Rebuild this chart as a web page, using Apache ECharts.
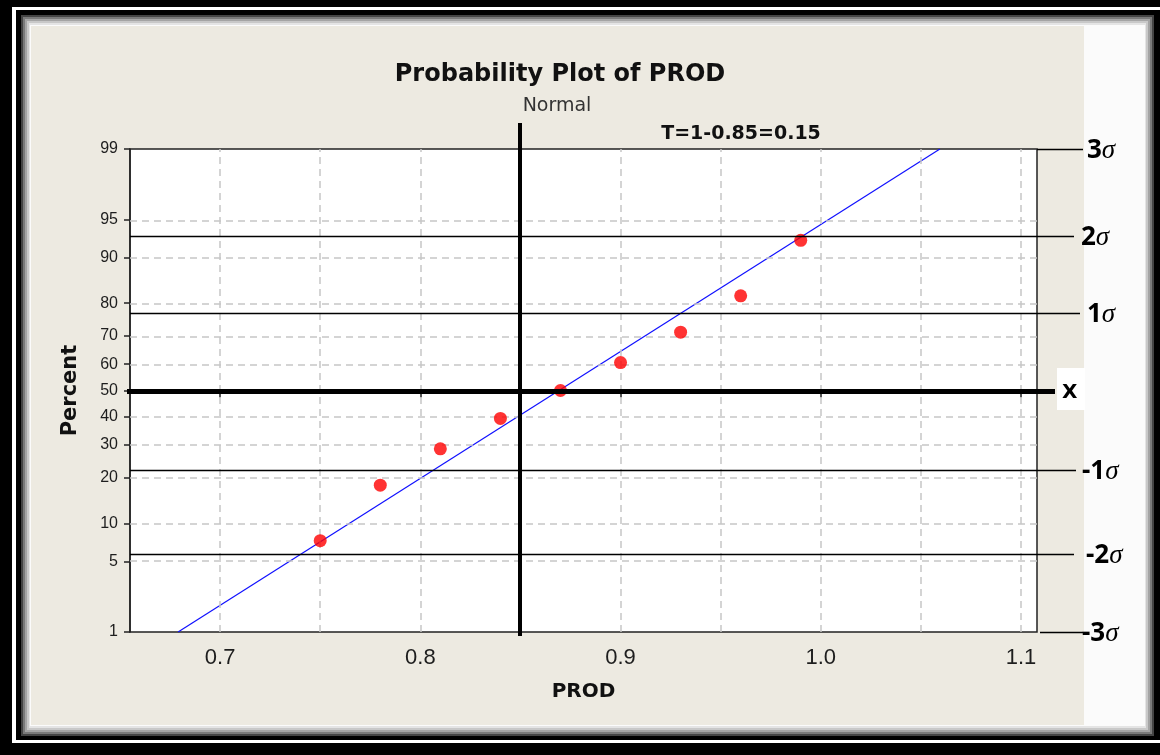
<!DOCTYPE html>
<html>
<head>
<meta charset="utf-8">
<script src="https://cdn.jsdelivr.net/npm/echarts@6/dist/echarts.min.js"></script>
<style>
  html, body { margin: 0; padding: 0; background: #000; }
  #chart { width: 1160px; height: 755px; }
</style>
</head>
<body>
<div id="chart"></div>
<script>
// Observed PROD values and their median-rank plotting positions (percent)
const prodValues    = [0.75, 0.78, 0.81, 0.84, 0.87, 0.90, 0.93, 0.96, 0.99];
const percentValues = [7.4, 18.1, 28.7, 39.4, 50, 60.6, 71.3, 81.9, 92.6];

// Fitted normal line endpoints
const fitProd    = [0.679, 1.0595];
const fitPercent = [1, 99];

// Axis ticks and grid lines
const percentTicks = [1, 5, 10, 20, 30, 40, 50, 60, 70, 80, 90, 95, 99];
const percentGrid  = [5, 10, 20, 30, 40, 60, 70, 80, 90, 95];
const prodTicks    = [0.7, 0.8, 0.9, 1.0, 1.1];
const prodGrid     = [0.7, 0.75, 0.8, 0.85, 0.9, 0.95, 1.0, 1.05, 1.1];

// Target marker and sigma reference levels
const targetProd    = 0.85;
const targetText    = 'T=1-0.85=0.15';
const sigmaNames    = ['3', '2', '1', 'X', '-1', '-2', '-3'];
const sigmaPercent  = [99, 93.2, 77.3, 50, 22.1, 5.8, 1];

// Inverse standard normal CDF (probability scale for the y axis)
function probit(p) {
  const a = [-3.969683028665376e+01, 2.209460984245205e+02, -2.759285104469687e+02, 1.383577518672690e+02, -3.066479806614716e+01, 2.506628277459239e+00];
  const b = [-5.447609879822406e+01, 1.615858368580409e+02, -1.556989798598866e+02, 6.680131188771972e+01, -1.328068155288572e+01];
  const c = [-7.784894002430293e-03, -3.223964580411365e-01, -2.400758277161838e+00, -2.549732539343734e+00, 4.374664141464968e+00, 2.938163982698783e+00];
  const d = [7.784695709041462e-03, 3.224671290700398e-01, 2.445134137142996e+00, 3.754408661907416e+00];
  const pl = 0.02425;
  if (p < pl) {
    const q = Math.sqrt(-2 * Math.log(p));
    return (((((c[0]*q+c[1])*q+c[2])*q+c[3])*q+c[4])*q+c[5]) / ((((d[0]*q+d[1])*q+d[2])*q+d[3])*q+1);
  }
  if (p > 1 - pl) {
    const q = Math.sqrt(-2 * Math.log(1 - p));
    return -(((((c[0]*q+c[1])*q+c[2])*q+c[3])*q+c[4])*q+c[5]) / ((((d[0]*q+d[1])*q+d[2])*q+d[3])*q+1);
  }
  const q = p - 0.5, r = q * q;
  return (((((a[0]*r+a[1])*r+a[2])*r+a[3])*r+a[4])*r+a[5])*q / (((((b[0]*r+b[1])*r+b[2])*r+b[3])*r+b[4])*r+1);
}
const z = pct => probit(pct / 100);

const yTickZ = percentTicks.map(z);
const LABEL = '#1e1e1e';
const BOLD = '"DejaVu Sans", sans-serif';
const TICKFONT = '"Liberation Sans", Arial, sans-serif';

const chart = echarts.init(document.getElementById('chart'), null, { renderer: 'canvas' });

const option = {
  animation: false,
  backgroundColor: '#000',
  title: [
    { text: 'Probability Plot of PROD', left: 555, top: 58, textAlign: 'center',
      textStyle: { fontFamily: BOLD, fontWeight: 'bold', fontSize: 24, color: '#111' } },
    { text: 'Normal', left: 552, top: 92, textAlign: 'center',
      textStyle: { fontFamily: BOLD, fontWeight: 'normal', fontSize: 19, color: '#333' } },
    { text: targetText, left: 736, top: 120, textAlign: 'center',
      textStyle: { fontFamily: BOLD, fontWeight: 'bold', fontSize: 19, color: '#111' } }
  ],
  grid: {
    left: 130, top: 149, width: 907, height: 483,
    show: true, backgroundColor: '#fff', borderColor: '#222', borderWidth: 1.5
  },
  xAxis: {
    type: 'value', min: 0.655, max: 1.108,
    name: 'PROD', nameLocation: 'middle', nameGap: 50,
    nameTextStyle: { fontFamily: BOLD, fontWeight: 'bold', fontSize: 20, color: '#111' },
    axisLine: { show: true, lineStyle: { color: '#222', width: 1.5 } },
    axisTick: { show: true, length: 7, customValues: prodTicks, lineStyle: { color: '#222', width: 1.5 } },
    axisLabel: { customValues: prodTicks, margin: 15, fontFamily: TICKFONT, fontSize: 22, color: LABEL,
      formatter: v => v.toFixed(1) },
    splitLine: { show: false }
  },
  yAxis: {
    type: 'value', min: z(1), max: z(99),
    name: 'Percent', nameLocation: 'middle', nameGap: 49, nameRotate: 90,
    nameTextStyle: { fontFamily: BOLD, fontWeight: 'bold', fontSize: 21, color: '#111' },
    axisLine: { show: true, lineStyle: { color: '#222', width: 1.5 } },
    axisTick: { show: true, length: 6, customValues: yTickZ, lineStyle: { color: '#222', width: 1.5 } },
    axisLabel: { customValues: yTickZ, margin: 12, fontFamily: TICKFONT, fontSize: 16, color: LABEL,
      formatter: v => {
        const i = yTickZ.findIndex(t => Math.abs(t - v) < 1e-9);
        return i >= 0 ? String(percentTicks[i]) : '';
      } },
    splitLine: { show: false }
  },
  series: [
    {
      // dashed reference grid
      type: 'line', data: [], silent: true, z: 1,
      markLine: {
        silent: true, symbol: ['none', 'none'], label: { show: false },
        lineStyle: { type: [7, 5], color: '#c6c6c6', width: 1.5 },
        data: prodGrid.map(v => ({ xAxis: v })).concat(percentGrid.map(p => ({ yAxis: z(p) })))
      }
    },
    {
      name: 'Fit', type: 'line', z: 3, showSymbol: false, symbol: 'none',
      lineStyle: { color: '#1010ff', width: 1.2 },
      data: fitProd.map((x, i) => [x, z(fitPercent[i])])
    },
    {
      name: 'PROD', type: 'scatter', z: 5, symbolSize: 13,
      itemStyle: { color: '#ff0000' },
      data: prodValues.map((x, i) => [x, z(percentValues[i])])
    }
  ]
};
chart.setOption(option);

// Frame, annotation lines and sigma labels placed through the axis scales
const yPix = pct => chart.convertToPixel({ yAxisIndex: 0 }, z(pct));
const xPix = v => chart.convertToPixel({ xAxisIndex: 0 }, v);

const frame = [
  { type: 'rect', shape: { x: 12, y: 7, width: 1148, height: 736 }, style: { fill: '#fff' } },
  { type: 'rect', shape: { x: 16, y: 10, width: 1144, height: 730 }, style: { fill: '#000' } },
  { type: 'rect', shape: { x: 21, y: 15, width: 1133, height: 721 }, style: { fill: '#444' } },
  { type: 'rect', shape: { x: 23, y: 17, width: 1129, height: 717 }, style: { fill: '#7a7a7a' } },
  { type: 'rect', shape: { x: 25, y: 19, width: 1125, height: 713 }, style: { fill: '#a4a4a4' } },
  { type: 'rect', shape: { x: 27, y: 21, width: 1121, height: 709 }, style: { fill: '#c8c8c8' } },
  { type: 'rect', shape: { x: 29, y: 23, width: 1117, height: 705 }, style: { fill: '#e4e4e4' } },
  { type: 'rect', shape: { x: 30, y: 25, width: 1115, height: 701 }, style: { fill: '#fbfbfb' } },
  { type: 'rect', shape: { x: 31, y: 26, width: 1053, height: 699 }, style: { fill: '#edeae1' } },
  { type: 'rect', shape: { x: 1057, y: 368, width: 28, height: 42 }, style: { fill: '#fff' } }
].map(e => Object.assign(e, { z: -10, silent: true }));

// line start / end pixels and label anchors for each sigma level
const sigmaStart = [1037, 130, 130, 127, 130, 130, 1040];
const sigmaEnd   = [1083, 1074, 1080, 1055, 1076, 1074, 1083];
const sigmaLabelX = [1087, 1081, 1087, 1062, 1082, 1086, 1082];

const overlay = [];
sigmaPercent.forEach((p, i) => {
  const y = Math.round(yPix(p)) + 0.5;
  const isX = sigmaNames[i] === 'X';
  overlay.push({
    type: 'line', z: 20, silent: true,
    shape: { x1: sigmaStart[i], y1: y, x2: sigmaEnd[i], y2: y },
    style: { stroke: '#000', lineWidth: isX ? 5 : 1.3 }
  });
  overlay.push({
    type: 'text', z: 21, silent: true, x: sigmaLabelX[i], y: y + 1,
    style: isX
      ? { text: 'X', fill: '#000', font: 'bold 20px "DejaVu Sans", sans-serif', verticalAlign: 'middle' }
      : { text: '{n|' + sigmaNames[i] + '}{s|σ}', verticalAlign: 'middle',
          rich: {
            n: { fontFamily: '"Noto Sans", sans-serif', fontWeight: 'bold', fontSize: 26, fill: '#000', color: '#000' },
            s: { fontFamily: '"Liberation Serif", "DejaVu Serif", serif', fontStyle: 'italic', fontSize: 27, fill: '#000', color: '#000' }
          } }
  });
});
const tx = Math.round(xPix(targetProd));
overlay.push({
  type: 'line', z: 20, silent: true,
  shape: { x1: tx, y1: 123, x2: tx, y2: 636 },
  style: { stroke: '#000', lineWidth: 4 }
});

chart.setOption({ graphic: frame.concat(overlay) });
</script>
</body>
</html>
